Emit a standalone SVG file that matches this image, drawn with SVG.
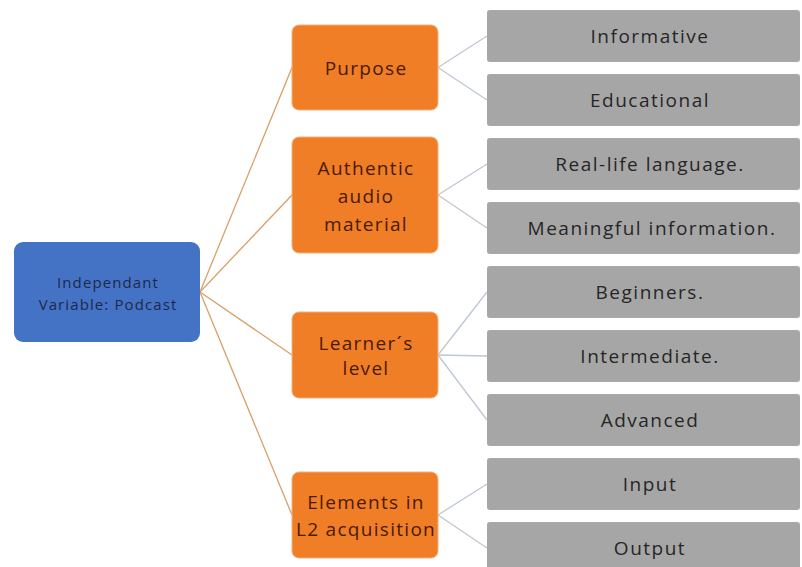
<svg xmlns="http://www.w3.org/2000/svg" width="802" height="567" viewBox="0 0 802 567">
  <style>
    .root rect { fill: #4472C4; }
    .root text { fill: #1c2a4a; font-size: 15px; letter-spacing: 1.1px; }
    .cat rect { fill: #F07E26; stroke: #f6b07a; stroke-width: 1; }
    .cat text { fill: #4a1a06; font-size: 19px; letter-spacing: 1.3px; }
    .leaf rect { fill: #A6A6A6; }
    .leaf text { fill: #262626; font-size: 19px; letter-spacing: 1.5px; }
    text { font-family: "Open Sans", "Liberation Sans", sans-serif; text-anchor: middle; dominant-baseline: central; }
    .c1 line { stroke: #d9a066; stroke-width: 1.3; }
    .c2 line { stroke: #bfc6d4; stroke-width: 1.3; }
  </style>
  <rect width="802" height="567" fill="#ffffff"/>

  <g id="connectors">
    <g class="c1">
      <line x1="200" y1="292" x2="292" y2="67.5"/>
      <line x1="200" y1="292" x2="292" y2="195"/>
      <line x1="200" y1="292" x2="292" y2="355"/>
      <line x1="200" y1="292" x2="292" y2="515"/>
    </g>
    <g class="c2">
      <line x1="438" y1="67.5" x2="487" y2="36"/>
      <line x1="438" y1="67.5" x2="487" y2="100"/>
      <line x1="438" y1="195" x2="487" y2="164"/>
      <line x1="438" y1="195" x2="487" y2="228"/>
      <line x1="438" y1="355" x2="487" y2="292"/>
      <line x1="438" y1="355" x2="487" y2="356"/>
      <line x1="438" y1="355" x2="487" y2="420"/>
      <line x1="438" y1="515" x2="487" y2="484"/>
      <line x1="438" y1="515" x2="487" y2="548"/>
    </g>
  </g>

  <g id="root" class="root">
    <rect x="14" y="242" width="186" height="100" rx="9"/>
    <text x="108" y="282">Independant</text>
    <text x="108" y="304">Variable: Podcast</text>
  </g>

  <g id="purpose" class="cat">
    <rect x="292" y="25" width="146" height="85" rx="7"/>
    <text x="366" y="68">Purpose</text>
  </g>
  <g id="authentic" class="cat">
    <rect x="292" y="137" width="146" height="116" rx="7"/>
    <text x="366" y="168">Authentic</text>
    <text x="366" y="196">audio</text>
    <text x="366" y="224">material</text>
  </g>
  <g id="learner" class="cat">
    <rect x="292" y="312" width="146" height="86" rx="7"/>
    <text x="366" y="343">Learner´s</text>
    <text x="366" y="368">level</text>
  </g>
  <g id="elements" class="cat">
    <rect x="292" y="472" width="146" height="86" rx="7"/>
    <text x="366" y="502">Elements in</text>
    <text x="366" y="529">L2 acquisition</text>
  </g>

  <g id="informative" class="leaf">
    <rect x="487" y="10" width="313" height="52" rx="3"/>
    <text x="650" y="36">Informative</text>
  </g>
  <g id="educational" class="leaf">
    <rect x="487" y="74" width="313" height="52" rx="3"/>
    <text x="650" y="100">Educational</text>
  </g>
  <g id="real-life" class="leaf">
    <rect x="487" y="138" width="313" height="52" rx="3"/>
    <text x="650" y="164">Real-life language.</text>
  </g>
  <g id="meaningful" class="leaf">
    <rect x="487" y="202" width="313" height="52" rx="3"/>
    <text x="652" y="228">Meaningful information.</text>
  </g>
  <g id="beginners" class="leaf">
    <rect x="487" y="266" width="313" height="52" rx="3"/>
    <text x="650" y="292">Beginners.</text>
  </g>
  <g id="intermediate" class="leaf">
    <rect x="487" y="330" width="313" height="52" rx="3"/>
    <text x="650" y="356">Intermediate.</text>
  </g>
  <g id="advanced" class="leaf">
    <rect x="487" y="394" width="313" height="52" rx="3"/>
    <text x="650" y="420">Advanced</text>
  </g>
  <g id="input" class="leaf">
    <rect x="487" y="458" width="313" height="52" rx="3"/>
    <text x="650" y="484">Input</text>
  </g>
  <g id="output" class="leaf">
    <rect x="487" y="522" width="313" height="52" rx="3"/>
    <text x="650" y="548">Output</text>
  </g>
</svg>
